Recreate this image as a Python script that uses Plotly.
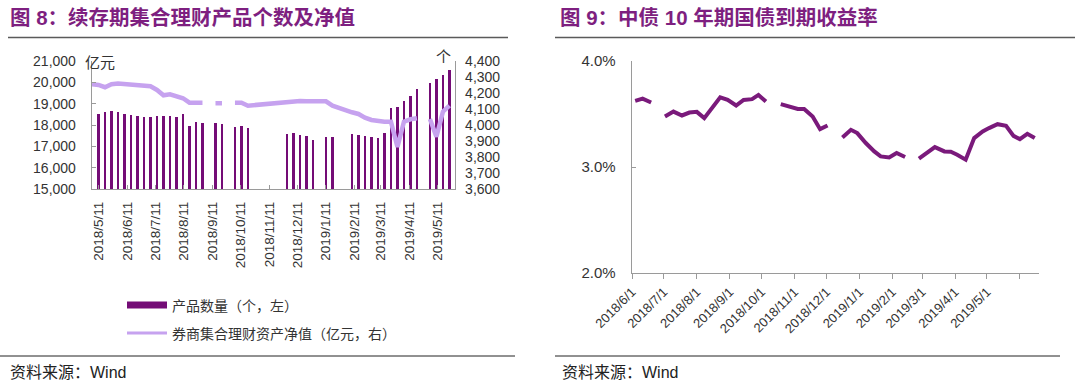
import plotly.graph_objects as go
import pandas as pd

W, H = 1080, 386
def px(x): return x / W
def py(y): return 1 - y / H

# ---------------- Data: left chart (weekly) ----------------
week_dates = pd.date_range("2018-05-04", periods=57, freq="7D")

product_count = [None,
    4067, 4079, 4085, 4079, 4067, 4060, 4056, 4050, 4048, 4056,
    4056, 4056, 4050, 4069, 3992, 4019, 4012, None, 4010, 4008,
    None, 3988, 3994, 3981, None, None, None, None, None, 3946,
    3950, 3938, 3931, 3906, None, 3923, 3923, None, None, 3944,
    3938, 3931, 3925, 3919, 3948, 4108, 4114, 4150, 4181, 4225,
    None, 4264, 4288, 4313, 4344]

net_value = [19910,
    19878, 19770, 19910, 19940, 19910, 19863, 19847, 19830, 19815, 19643,
    19394, 19441, 19347, 19254, 19047, 19047, 19047, None, 19020, 19020,
    None, 19047, 19047, 18906, 18940, 18970, 19000, 19035, 19066, 19095,
    19110, 19127, 19110, 19095, 19095, 19110, 18906, 18785, 18690, 18597,
    18517, 18345, 18236, 18175, 18158, 18158, 16970, 18158, 18267, 18315,
    None, 18283, 17450, 18626, 18906]

left_tick_dates = ["2018-05-11", "2018-06-11", "2018-07-11", "2018-08-11", "2018-09-11",
                   "2018-10-11", "2018-11-11", "2018-12-11", "2019-01-11", "2019-02-11",
                   "2019-03-11", "2019-04-11", "2019-05-11"]
left_tick_text = ["2018/5/11", "2018/6/11", "2018/7/11", "2018/8/11", "2018/9/11",
                  "2018/10/11", "2018/11/11", "2018/12/11", "2019/1/11", "2019/2/11",
                  "2019/3/11", "2019/4/11", "2019/5/11"]

# ---------------- Data: right chart ----------------
yield_dates = ["2018-06-04", "2018-06-11", "2018-06-19", "2018-06-26", "2018-07-02",
               "2018-07-10", "2018-07-18", "2018-07-25", "2018-08-01", "2018-08-08",
               "2018-08-23", "2018-08-30", "2018-09-07", "2018-09-14", "2018-09-22",
               "2018-09-28", "2018-10-05", "2018-10-12", "2018-10-19", "2018-10-27",
               "2018-11-04", "2018-11-10", "2018-11-18", "2018-11-25", "2018-12-02",
               "2018-12-09", "2018-12-16", "2018-12-24", "2018-12-30", "2019-01-07",
               "2019-01-15", "2019-01-21", "2019-01-29", "2019-02-05", "2019-02-13",
               "2019-02-20", "2019-02-26", "2019-03-06", "2019-03-13", "2019-03-22",
               "2019-03-28", "2019-04-03", "2019-04-11", "2019-04-19", "2019-04-27",
               "2019-05-03", "2019-05-11", "2019-05-19", "2019-05-26", "2019-06-01",
               "2019-06-08", "2019-06-15"]
yield_values = [3.624, 3.645, 3.608, None, 3.476,
                3.523, 3.486, 3.514, 3.520, 3.461,
                3.658, 3.633, 3.580, 3.633, 3.640,
                3.680, 3.617, None, 3.593, 3.570,
                3.548, 3.548, 3.476, 3.357, 3.392,
                None, 3.279, 3.351, 3.320, 3.226,
                3.147, 3.100, 3.090, 3.132, 3.094,
                None, 3.078, 3.141, 3.188, 3.147,
                3.144, 3.116, 3.069, 3.273, 3.335,
                3.367, 3.404, 3.389, 3.294, 3.263,
                3.313, 3.273]

right_tick_dates = ["2018-06-01", "2018-07-01", "2018-08-01", "2018-09-01", "2018-10-01",
                    "2018-11-01", "2018-12-01", "2019-01-01", "2019-02-01", "2019-03-01",
                    "2019-04-01", "2019-05-01", "2019-06-01"]
right_tick_text = ["2018/6/1", "2018/7/1", "2018/8/1", "2018/9/1", "2018/10/1",
                   "2018/11/1", "2018/12/1", "2019/1/1", "2019/2/1", "2019/3/1",
                   "2019/4/1", "2019/5/1", ""]

# ---------------- Styles ----------------
BAR_COLOR = "#740C76"
NAV_COLOR = "#C6A2EF"
YIELD_COLOR = "#7A1A7B"
TITLE_COLOR = "#7E1F80"
AXIS_COLOR = "#9A9A9A"
TXT = "#333333"
FONT = "Liberation Sans, Arial, Noto Sans CJK SC, sans-serif"
CJK = "Noto Sans CJK SC, sans-serif"

fig = go.Figure()

fig.add_trace(go.Bar(x=week_dates, y=product_count, marker_color=BAR_COLOR,
                     marker_line_width=0, width=2.4 * 86400000,
                     xaxis="x", yaxis="y", name="产品数量（个，左）"))
fig.add_trace(go.Scatter(x=week_dates, y=net_value, mode="lines",
                         line=dict(color=NAV_COLOR, width=4.5),
                         connectgaps=False, xaxis="x", yaxis="y2",
                         name="券商集合理财资产净值（亿元，右）"))
fig.add_trace(go.Scatter(x=yield_dates, y=yield_values, mode="lines",
                         line=dict(color=YIELD_COLOR, width=4),
                         connectgaps=False, xaxis="x2", yaxis="y3"))

tickfont = dict(family=FONT, size=14, color=TXT)
common = dict(automargin=False, showgrid=False, zeroline=False)

fig.update_layout(
    template="none",
    width=W, height=H, margin=dict(l=0, r=0, t=0, b=0, pad=0, autoexpand=False),
    paper_bgcolor="white", plot_bgcolor="white", showlegend=False,
    bargap=0,
    xaxis=dict(domain=[px(92), px(455)], anchor="y", type="date",
               range=["2018-05-04", "2019-05-30"],
               tickmode="array", tickvals=left_tick_dates, ticktext=left_tick_text,
               tickangle=-90, tickfont=dict(family=FONT, size=13.5, color=TXT),
               showline=True, linecolor=AXIS_COLOR, linewidth=1.3,
               ticks="inside", ticklen=4, tickcolor=AXIS_COLOR,
               ticklabelstandoff=6, **common),
    yaxis=dict(domain=[py(189), py(61)], anchor="x", side="right",
               range=[3600, 4400], dtick=100, tickformat=",",
               tickfont=tickfont, showline=True, linecolor=AXIS_COLOR, linewidth=1.3,
               ticks="", ticklabelstandoff=6, **common),
    yaxis2=dict(overlaying="y", anchor="x", side="left",
                range=[15000, 21000], dtick=1000, tickformat=",",
                tickfont=tickfont, showline=True, linecolor=AXIS_COLOR, linewidth=1.3,
                ticks="inside", ticklen=4, tickcolor=AXIS_COLOR,
                ticklabelstandoff=12, **common),
    xaxis2=dict(domain=[px(632), px(1039)], anchor="y3", type="date",
                range=["2018-06-01", "2019-06-19"],
                tickmode="array", tickvals=right_tick_dates, ticktext=right_tick_text,
                tickangle=-45, tickfont=dict(family=FONT, size=13, color=TXT),
                showline=True, linecolor=AXIS_COLOR, linewidth=1.3,
                ticks="outside", ticklen=5, tickcolor=AXIS_COLOR, **common),
    yaxis3=dict(domain=[py(273), py(61)], anchor="x2",
                range=[2.0, 4.0], dtick=1, tickformat=".1f", ticksuffix="%",
                tickfont=dict(family=FONT, size=15, color=TXT),
                showline=True, linecolor=AXIS_COLOR, linewidth=1.3,
                ticks="inside", ticklen=4, tickcolor=AXIS_COLOR,
                ticklabelstandoff=12, **common),
)

shapes = []
shapes.append(dict(type="line", xref="paper", yref="paper", x0=px(8), x1=px(508),
                   y0=py(37.5), y1=py(37.5), line=dict(color="#5A5A5A", width=1.6)))
shapes.append(dict(type="line", xref="paper", yref="paper", x0=px(555), x1=px(1075),
                   y0=py(37.5), y1=py(37.5), line=dict(color="#5A5A5A", width=1.6)))
shapes.append(dict(type="line", xref="paper", yref="paper", x0=px(0), x1=px(515),
                   y0=py(356), y1=py(356), line=dict(color="#222222", width=1)))
shapes.append(dict(type="line", xref="paper", yref="paper", x0=px(555), x1=px(1060),
                   y0=py(356), y1=py(356), line=dict(color="#222222", width=1)))
shapes.append(dict(type="rect", xref="paper", yref="paper", x0=px(127), x1=px(167),
                   y0=py(308.5), y1=py(301.5), fillcolor=BAR_COLOR, line=dict(width=0)))
shapes.append(dict(type="line", xref="paper", yref="paper", x0=px(127), x1=px(167),
                   y0=py(333), y1=py(333), line=dict(color=NAV_COLOR, width=3)))
fig.update_layout(shapes=shapes)

ann = []
def text(x, y, s, size, color=TXT, family=CJK, xanchor="left", bold=False):
    if bold:
        s = "<b>" + s + "</b>"
    ann.append(dict(xref="paper", yref="paper", x=px(x), y=py(y), text=s,
                    showarrow=False, xanchor=xanchor, yanchor="middle",
                    font=dict(family=family, size=size, color=color)))

text(8, 18, "图 8：续存期集合理财产品个数及净值", 20.5, TITLE_COLOR,
     "Liberation Sans, Noto Sans CJK SC, sans-serif", bold=True)
text(558, 18, "图 9：中债 10 年期国债到期收益率", 20.5, TITLE_COLOR,
     "Liberation Sans, Noto Sans CJK SC, sans-serif", bold=True)
text(83, 61, "亿元", 15)
text(453, 56, "个", 15, xanchor="right")
text(170, 305, "产品数量（个，左）", 14)
text(170, 333, "券商集合理财资产净值（亿元，右）", 14)
text(8, 371, "资料来源：<span style='font-family:Liberation Sans'>Wind</span>", 16, "#222222")
text(560, 371, "资料来源：<span style='font-family:Liberation Sans'>Wind</span>", 16, "#222222")
fig.update_layout(annotations=ann)

fig.write_html("out.html",
               config={"displayModeBar": False, "staticPlot": True},
               post_script="document.body.style.margin='0';document.body.style.padding='0';"
                           "document.documentElement.style.overflow='hidden';")
